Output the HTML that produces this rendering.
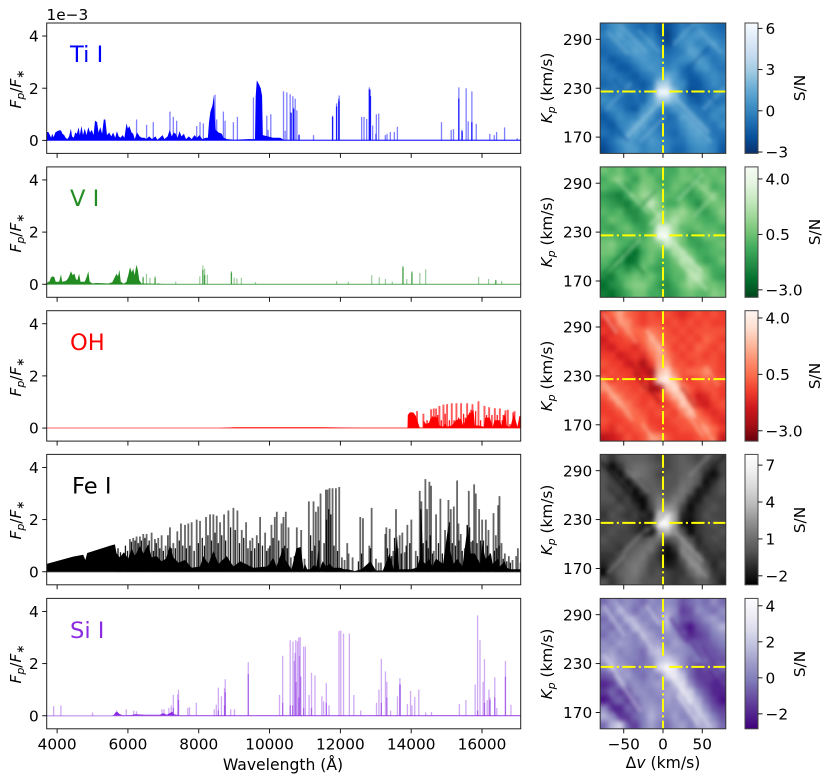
<!DOCTYPE html>
<html lang="en">
<head>
<meta charset="utf-8">
<title>Emission spectra and S/N maps</title>
<style>
html,body{margin:0;padding:0;background:#fff;}
svg{display:block;}
text{font-family:"DejaVu Sans","Liberation Sans",sans-serif;font-size:15.3px;fill:#000;}
.title{font-size:22.6px;}
.sub{font-size:11px;font-style:italic;}
.it{font-style:italic;}
.xl{font-size:15.6px;}
</style>
</head>
<body>
<svg id="chart" xmlns="http://www.w3.org/2000/svg" width="831" height="783" viewBox="0 0 831 783">
  <defs>
    <filter id="heat-blur" filterUnits="userSpaceOnUse" x="560" y="0" width="210" height="783" color-interpolation-filters="sRGB">
      <feGaussianBlur stdDeviation="2.6"/>
    </filter>
    <filter id="streak-blur" filterUnits="userSpaceOnUse" x="560" y="0" width="210" height="783" color-interpolation-filters="sRGB">
      <feGaussianBlur stdDeviation="1.7"/>
    </filter>
  </defs>
  <rect x="0" y="0" width="831" height="783" fill="#fff"/>
  <g id="layer"></g>

  <text x="46.5" y="20">1e−3</text>

  <text class="title" x="70" y="62" style="fill:#0000ff">Ti I</text>
  <text class="title" x="70" y="206" style="fill:#228b22">V I</text>
  <text class="title" x="70" y="350" style="fill:#ff0000">OH</text>
  <text class="title" x="72" y="493.5" style="fill:#000">Fe I</text>
  <text class="title" x="70" y="638" style="fill:#8a2be2">Si I</text>

  <text transform="translate(21,89) rotate(-90)" text-anchor="middle"><tspan class="it">F</tspan><tspan class="sub" dy="3">p</tspan><tspan dy="-3">/</tspan><tspan class="it">F</tspan><tspan class="sub" dy="3">∗</tspan></text>
  <text transform="translate(21,233) rotate(-90)" text-anchor="middle"><tspan class="it">F</tspan><tspan class="sub" dy="3">p</tspan><tspan dy="-3">/</tspan><tspan class="it">F</tspan><tspan class="sub" dy="3">∗</tspan></text>
  <text transform="translate(21,377) rotate(-90)" text-anchor="middle"><tspan class="it">F</tspan><tspan class="sub" dy="3">p</tspan><tspan dy="-3">/</tspan><tspan class="it">F</tspan><tspan class="sub" dy="3">∗</tspan></text>
  <text transform="translate(21,520) rotate(-90)" text-anchor="middle"><tspan class="it">F</tspan><tspan class="sub" dy="3">p</tspan><tspan dy="-3">/</tspan><tspan class="it">F</tspan><tspan class="sub" dy="3">∗</tspan></text>
  <text transform="translate(21,664) rotate(-90)" text-anchor="middle"><tspan class="it">F</tspan><tspan class="sub" dy="3">p</tspan><tspan dy="-3">/</tspan><tspan class="it">F</tspan><tspan class="sub" dy="3">∗</tspan></text>

  <text transform="translate(552,88) rotate(-90)" text-anchor="middle"><tspan class="it">K</tspan><tspan class="sub" dy="3">p</tspan><tspan dy="-3"> (km/s)</tspan></text>
  <text transform="translate(552,232) rotate(-90)" text-anchor="middle"><tspan class="it">K</tspan><tspan class="sub" dy="3">p</tspan><tspan dy="-3"> (km/s)</tspan></text>
  <text transform="translate(552,376) rotate(-90)" text-anchor="middle"><tspan class="it">K</tspan><tspan class="sub" dy="3">p</tspan><tspan dy="-3"> (km/s)</tspan></text>
  <text transform="translate(552,520) rotate(-90)" text-anchor="middle"><tspan class="it">K</tspan><tspan class="sub" dy="3">p</tspan><tspan dy="-3"> (km/s)</tspan></text>
  <text transform="translate(552,664) rotate(-90)" text-anchor="middle"><tspan class="it">K</tspan><tspan class="sub" dy="3">p</tspan><tspan dy="-3"> (km/s)</tspan></text>

  <text transform="translate(805,88) rotate(-90)" text-anchor="middle">S/N</text>
  <text transform="translate(820,232) rotate(-90)" text-anchor="middle">S/N</text>
  <text transform="translate(820,376) rotate(-90)" text-anchor="middle">S/N</text>
  <text transform="translate(805,520) rotate(-90)" text-anchor="middle">S/N</text>
  <text transform="translate(805,664) rotate(-90)" text-anchor="middle">S/N</text>

  <text class="xl" x="283" y="770" text-anchor="middle">Wavelength (Å)</text>
  <text class="xl" x="663" y="768" text-anchor="middle">Δ<tspan class="it">v</tspan> (km/s)</text>
</svg>
<script>
// ---------- spectrum tick data ----------
const waveTicks = [4000, 6000, 8000, 10000, 12000, 14000, 16000];
const fluxTicks = [0, 2, 4];

// ---------- Ti I ----------
const tiEnvWave = [3706,3750,3790,3830,3860,3900,3950,4000,4060,4110,4150,4200,4240,4290,4340,4390,4420,4470,4510,4560,4610,4640,4690,4730,4780,4830,4880,4930,4980,5030,5070,5130,5170,5220,5270,5320,5360,5410,5470,5530,5580,5640,5690,5740,5790,5850,5900,5960,6000,6040,6100,6150,6190,6260,6330,6390,6470,6520,6600,6680,6780,6830,6900,6980,7030,7120,7180,7240,7290,7350,7400,7460,7510,7580,7640,7720,7800,7880,7950,8020,8100,8200,8260,8290,8330,8390,8430,8450,8480,8560,8650,8700,8800,9000,9400,9590,9610,9640,9700,9750,9790,9810,10100,10300,10400,17093];
const tiEnvFlux = [0.32,0.32,0.22,0.1,0.25,0.12,0.3,0.35,0.38,0.38,0.25,0.2,0.1,0.05,0.15,0.45,0.15,0.1,0.3,0.25,0.5,0.2,0.55,0.2,0.45,0.2,0.5,0.3,0.4,0.2,0.75,0.7,0.3,0.5,0.25,0.8,0.8,0.2,0.3,0.15,0.3,0.1,0.35,0.15,0.1,0.2,0.1,0.65,0.45,0.55,0.3,0.25,0.05,0.3,0.15,0.1,0.1,0.05,0.15,0.05,0.15,0.02,0.1,0.2,0.05,0.15,0.4,0.15,0.3,0.25,0.1,0.35,0.15,0.25,0.05,0.15,0.05,0.2,0.1,0.2,0.05,0.1,0.1,0.7,1.1,1.35,1.75,0.9,0.4,0.3,0.25,0.1,0.05,0.02,0.05,0.05,1.7,2.3,2.15,2.0,1.7,0.2,0.1,0.1,0.02,0.02];
const tiLineWave = [6244,6527,6716,7187,7282,7376,7942,8036,8130,8460,8507,8696,8743,8979,9092,9545,9922,9960,10035,10394,10488,10582,10658,10724,10771,10601,10677,10440,10836,11242,11780,11893,11950,11969,12818,12847,12601,12668,12743,12911,13017,13083,13000,13269,13317,13411,13524,13611,14856,15130,15195,15346,15431,15553,15610,15714,15837,16221,16346,16412,16638,16994];
const tiLineFlux = [0.8,0.6,0.7,1.1,0.9,0.75,0.55,0.7,0.65,1.75,0.8,1.1,0.75,0.7,0.9,1.65,0.95,0.4,1.0,1.88,1.84,1.77,1.69,1.6,1.15,1.08,1.25,0.37,0.23,0.2,0.95,1.42,1.6,1.72,2.03,1.95,0.9,0.9,0.82,0.57,1.0,1.03,0.25,0.2,0.25,0.32,0.32,0.52,0.7,0.4,0.43,2.03,0.4,2.0,0.73,1.88,0.63,0.25,0.2,0.32,0.5,0.08];
const tiInnerWave = [10610,10680,10830,11780,11893,11960,12818,12850,15346,15440,15714];
const tiInnerFlux = [1.05,1.2,0.2,0.9,1.3,1.5,1.95,1.7,1.6,0.35,0.7];

// ---------- V I ----------
const vEnvWave = [3706,3790,3820,3870,3920,3960,4060,4110,4140,4240,4300,4340,4390,4440,4490,4530,4570,4620,4660,4780,4840,4880,4920,5000,5100,5300,5450,5560,5620,5680,5720,5760,5800,5880,5960,6020,6060,6110,6150,6190,6240,6280,6320,6380,7093,17093];
const vEnvFlux = [0.05,0.12,0.25,0.3,0.28,0.1,0.1,0.38,0.1,0.12,0.2,0.3,0.5,0.35,0.4,0.2,0.15,0.4,0.1,0.1,0.3,0.5,0.1,0.03,0.05,0.04,0.03,0.08,0.25,0.4,0.3,0.55,0.1,0.02,0.1,0.4,0.65,0.45,0.6,0.35,0.75,0.55,0.15,0.03,0.01,0.01];
const vLineWave = [6428,6525,6622,6767,6864,7350,8030,8117,8166,8243,8923,9001,9078,9204,9603,11894,12224,12885,13098,13273,13467,13768,13875,14021,14244,14409,15904,16186,16390,16555];
const vLineFlux = [0.3,0.4,0.25,0.3,0.05,0.1,0.3,0.72,0.6,0.37,0.5,0.25,0.22,0.25,0.08,0.12,0.1,0.35,0.27,0.2,0.1,0.7,0.2,0.5,0.43,0.57,0.28,0.2,0.17,0.12];
const vInnerWave = [6428,6767,8117,8166,8923,13768,14021,16390];
const vInnerFlux = [0.25,0.25,0.55,0.35,0.45,0.65,0.45,0.15];

// ---------- OH ----------
const ohEnvWave = [8500,9000,11500,12500,13895,13905,13960,14060,14140,14180,14240,14340,14345,14420,14500,14560,14680,14750,14790,14900,14960,15010,15150,15260,15400,15470,15600,15700,15760,15800,15900,16050,16090,16220,16300,16360,16500,16550,16650,16700,16800,16900,17000,17060,17093];
const ohEnvFlux = [0,0.03,0.03,0.01,0.01,0.5,0.6,0.6,0.45,0.25,0.02,0.02,0.3,0.15,0.2,0.4,0.42,0.4,0.1,0.05,0.2,0.05,0.1,0.3,0.35,0.1,0.5,0.6,0.7,0.1,0.1,0.05,0.4,0.4,0.05,0.3,0.3,0.1,0.6,0.1,0.03,0.55,0.05,0.45,0.45];
const ohLineWave = [14166,14345,14449,14562,14637,14703,14797,14911,15014,15146,15278,15410,15580,15731,15900,16070,16202,16362,16504,16664,16730,16881,16919,17070];
const ohLineFlux = [0.65,0.55,0.3,0.72,0.75,0.75,0.85,0.9,0.92,0.95,0.95,0.95,0.95,0.92,1.03,0.85,0.8,0.76,0.75,0.68,0.7,0.6,0.65,0.45];
const ohInnerWave = [14600,14670,14750,14850,14960,15080,15210,15340,15480,15530,15650,15690,15820,15960,16130,16280,16430,16570,16600,16790,16960];
const ohInnerFlux = [0.45,0.45,0.5,0.3,0.55,0.3,0.3,0.4,0.55,0.4,0.6,0.7,0.65,0.3,0.5,0.5,0.5,0.3,0.5,0.15,0.1];

// ---------- Fe I ----------
const feEnvWave = [3706,4453,4736,4800,4849,5490,5631,5679,5773,5886,6009,6103,6197,6339,6433,6574,6669,6810,6952,7074,7187,7282,7423,7612,7800,8036,8130,8272,8413,8555,8791,8979,9168,9545,9921,10000,10100,10200,10390,10450,10520,10620,10760,10880,10960,11000,11060,11150,11250,11330,11370,11420,11500,11600,11700,11800,12000,12100,12200,12400,12600,12850,13000,13200,13390,13500,13600,13660,13800,14000,14150,14250,14290,14330,14400,14500,14600,14700,14900,15050,15100,15200,15300,15450,15600,15680,15800,15950,16000,16100,16250,16300,16450,16500,16640,16700,16800,17093];
const feEnvFlux = [0.3,0.58,0.65,0.45,0.72,1.0,1.05,0.7,0.55,0.75,0.5,0.9,0.6,1.0,0.7,1.05,0.55,0.6,0.4,0.5,1.0,0.55,0.35,0.45,0.15,0.2,0.6,0.3,0.8,0.3,0.6,0.2,0.4,0.15,0.2,0.3,0.55,0.2,0.95,0.45,0.3,0.1,0.9,0.95,0.1,0.3,0.1,0.1,0.25,0.2,0.8,0.1,0.4,0.2,0.3,0.15,0.15,0.1,0.1,0.03,0.1,0.4,0.05,0.05,0.7,0.1,1.4,0.1,0.1,0.1,0.15,0.5,2.4,0.4,0.3,0.5,0.2,0.5,0.3,1.8,0.8,0.3,0.5,0.2,1.8,0.7,0.7,0.3,1.1,0.5,0.7,0.3,0.5,0.2,0.4,0.15,0.1,0.1];
const feLineWave = [6056,6150,6244,6339,6433,6527,6669,6763,6857,6952,7065,7187,7282,7395,7498,7612,7706,7800,7942,8036,8206,8319,8413,8508,8602,8715,8838,8979,9092,9215,9337,9450,9517,9639,9733,9875,9969,10054,10148,10205,10337,10393,10459,10535,10601,10770,10893,10987,11110,11242,11308,11374,11440,11591,11638,11695,11779,11874,11968,12043,12119,12194,12232,12345,12562,12638,12817,12883,13005,13081,13147,13269,13298,13392,13496,13571,13675,13750,13816,13892,14005,14128,14241,14288,14401,14448,14514,14561,14637,14703,14825,14957,15052,15118,15203,15297,15335,15400,15514,15627,15693,15778,15825,15919,16004,16108,16183,16325,16391,16457,16494,16551,16645,16758,16862,16966,17013,17089];
const feLineFlux = [1.25,1.3,1.35,1.35,1.45,1.45,1.5,1.25,1.3,1.4,1.0,1.7,1.1,1.55,1.85,1.8,1.85,1.9,2.0,1.95,2.1,2.2,2.2,2.15,1.9,2.2,2.35,2.45,2.35,1.6,1.9,1.2,1.3,1.4,2.1,1.5,0.9,1.8,2.1,2.3,1.85,2.1,2.3,1.7,0.55,1.7,1.6,0.5,2.7,2.7,2.3,2.5,3.0,3.15,3.15,3.2,3.2,3.2,3.25,0.55,0.45,1.1,0.7,0.55,2.1,2.05,1.0,2.45,0.5,0.35,0.35,1.45,1.7,1.65,0.8,2.4,1.4,1.5,0.75,1.8,2.0,0.8,3.1,2.7,3.55,2.4,3.45,3.3,0.8,2.2,2.8,1.6,2.75,2.4,2.5,3.5,1.85,1.45,0.9,3.1,1.15,3.35,3.0,2.4,2.0,2.0,1.6,2.25,1.4,2.55,2.9,1.1,0.7,0.6,0.45,0.6,0.9,0.35];
const feInnerWave = [5720,5790,5850,5930,5990,6100,6200,6290,6380,6480,6600,6720,6800,6900,7000,7130,7230,7340,7450,7550,7650,7750,7870,7990,8100,8160,8260,8360,8460,8550,8650,8760,8900,9030,9150,9270,9390,9480,9580,9690,9800,9920,10010,10100,10260,10360,10430,10500,10700,10830,11160,11200,11280,11400,11540,11610,11670,11730,11820,11920,12510,12600,12850,13330,13450,13530,13620,13720,13860,13960,14180,14270,14340,14430,14480,14540,14600,14770,14880,15000,15080,15160,15250,15350,15440,15580,15650,15740,15860,15960,16040,16150,16230,16350,16420,16480,16600,16700,16800];
const feInnerFlux = [0.9,0.75,0.6,1.0,0.8,1.15,1.2,1.1,1.2,1.3,1.2,0.8,1.1,0.9,0.8,1.4,0.9,0.9,1.2,1.0,0.9,1.0,0.8,1.1,1.3,1.0,1.4,1.2,1.5,1.1,1.4,1.2,1.7,1.6,1.1,1.3,0.9,0.8,0.9,1.1,1.0,0.8,1.0,1.3,1.2,0.9,1.0,0.9,0.6,0.9,1.4,0.8,1.0,1.2,1.1,2.0,2.4,2.2,1.0,0.8,0.4,0.7,0.9,0.9,0.6,1.3,0.9,0.7,1.0,1.1,0.6,2.4,1.1,1.2,0.9,1.4,0.7,1.1,0.7,1.1,1.9,1.1,1.0,1.2,0.8,1.8,1.7,1.2,1.1,1.2,1.2,1.0,0.7,0.8,0.9,1.0,0.5,0.4,0.35];

// ---------- Si I ----------
const siEnvWave = [5550,5600,5650,5700,5750,5850,6100,6200,6500,6900,7000,7100,7250,7300,7450,8400,17093];
const siEnvFlux = [0,0.03,0.13,0.15,0.08,0.02,0.03,0.06,0.04,0.04,0.1,0.04,0.15,0.06,0.02,0.02,0.02];
const siLineWave = [3903,4107,5000,5680,5952,6165,6243,6962,7020,7156,7224,7282,7408,7428,7690,7739,7933,8438,8496,8554,8641,8729,8748,8903,9010,9399,10282,10370,10583,10661,10739,10787,10826,10865,10700,10720,10845,10962,11011,11117,11185,11283,11477,11526,11603,11680,11962,12011,12089,12254,12380,12574,13021,13089,13157,13273,13312,13419,13613,13681,13690,13894,13982,14021,14100,14215,14409,14574,15361,15545,15807,15875,15943,16031,16070,16147,16196,16225,16361,16419,16662,16817];
const siLineFlux = [0.37,0.4,0.13,0.2,0.25,0.2,0.17,0.25,0.25,0.3,0.4,0.8,0.82,1.0,0.3,0.33,0.5,0.25,0.42,1.08,0.75,1.05,1.4,0.25,0.25,2.05,0.8,2.3,2.9,2.85,2.9,2.85,3.0,3.02,2.1,2.4,2.3,2.65,2.65,0.8,1.65,1.55,0.75,0.55,1.25,0.4,3.25,3.27,3.15,3.15,0.8,0.2,0.5,1.0,2.18,1.7,1.3,0.2,0.75,1.45,1.2,0.45,0.95,0.4,0.72,1.0,0.13,0.15,0.45,0.6,1.2,3.85,2.9,1.3,2.17,0.6,1.0,0.7,1.47,0.3,2.1,0.42];
const siInnerWave = [7282,7428,8554,8729,8748,9399,10370,10583,10650,10750,10826,10880,10962,11185,11603,13157,13312,13681,15875,16070,16225,16361,16662];
const siInnerFlux = [0.3,0.6,0.2,0.4,0.9,1.6,0.5,0.4,0.4,1.3,0.7,1.5,0.3,0.3,0.5,0.5,0.7,1.2,0.2,0.5,0.6,0.7,1.5];

// ---------- heatmap axes ----------
const velocityTicks = [-50, 0, 50];
const kpTicks = [170, 230, 290];
const kpPlanet = 226;

// ---------- colormaps, dark to light ----------
const blues = ["#08306b","#08519c","#2171b5","#4292c6","#6baed6","#9ecae1","#c6dbef","#deebf7","#f7fbff"];
const greens = ["#00441b","#006d2c","#238b45","#41ab5d","#74c476","#a1d99b","#c7e9c0","#e5f5e0","#f7fcf5"];
const reds = ["#67000d","#a50f15","#cb181d","#ef3b2c","#fb6a4a","#fc9272","#fcbba1","#fee0d2","#fff5f0"];
const greys = ["#000000","#252525","#525252","#737373","#969696","#bdbdbd","#d9d9d9","#f0f0f0","#ffffff"];
const purples = ["#3f007d","#54278f","#6a51a3","#807dba","#9e9ac8","#bcbddc","#dadaeb","#efedf5","#fcfbfd"];

// ---------- colorbar ticks ----------
const tiBarTicks = [-3, 0, 3, 6];
const tiBarLabels = ["−3","0","3","6"];
const vBarTicks = [-3, 0.5, 4];
const vBarLabels = ["−3.0","0.5","4.0"];
const ohBarTicks = [-3, 0.5, 4];
const ohBarLabels = ["−3.0","0.5","4.0"];
const feBarTicks = [-2, 1, 4, 7];
const feBarLabels = ["−2","1","4","7"];
const siBarTicks = [-2, 0, 2, 4];
const siBarLabels = ["−2","0","2","4"];

// ---------- S/N grids (rows: Kp 310 to 150, columns: dv -80 to 80) ----------
const tiMap = [
[-0.7,0.3,0.8,-0.2,-0.7,-1.2,-0.7,-1.7,-2.2,-1.2,-0.2,-0.7,0.3,-0.2,-0.7,-1.2],
[-0.2,0.3,1.3,0.3,-0.2,-0.7,-0.2,-1.2,-2.7,-1.2,0.3,0.3,0.8,0.3,-0.2,-0.7],
[-0.7,-0.2,0.3,0.8,0.8,0.3,0.3,-0.7,-2.2,-0.7,0.3,0.8,-0.2,0.3,0.8,-0.2],
[-1.2,-0.7,-0.2,0.3,1.3,0.8,0.3,-0.2,-1.2,-0.7,-0.2,1.3,0.8,-0.7,-0.2,0.3],
[-0.7,-1.7,-1.2,-0.7,0.3,0.8,0.3,0.3,-0.7,-0.2,0.3,0.3,1.3,0.3,-0.7,-0.2],
[-0.2,-0.7,-1.7,-1.7,-0.7,0.3,0.8,0.3,-0.2,0.3,-0.7,-1.2,0.3,0.8,-0.2,-0.7],
[-0.7,-0.2,-0.7,-1.2,-1.7,-0.7,-0.2,0.8,1.8,0.8,-0.7,-1.7,-1.2,-0.2,0.3,-0.2],
[-1.2,-0.7,-0.2,-0.7,-1.2,-1.7,-0.7,3,3.5,0.8,0.3,-1.7,-1.7,-0.7,0.3,-0.2],
[-0.2,-0.7,-0.7,-0.7,-0.7,-1.2,0,6.2,6.4,2.5,-0.2,-2.2,-1.7,-0.7,-0.7,-0.2],
[0.3,-0.2,-0.7,-1.2,-0.7,-1.2,0.8,3,3,1.8,0.3,-1.2,-1.7,-0.7,-0.2,-0.7],
[-0.7,0.3,-0.2,-1.2,-1.7,0.3,1.3,0.3,-0.2,0.8,0.8,-0.2,-0.7,-0.7,-0.2,0.3],
[-1.7,-0.7,0.3,-0.2,-0.2,1.3,0.8,-0.7,-1.2,-0.7,1.3,0.8,-0.2,-0.7,0.3,-0.2],
[-1.2,-1.7,-0.2,0.3,1.3,1.3,-0.2,-0.7,-0.7,-0.7,0.3,1.3,0.8,-0.2,-0.7,0.3],
[-0.7,-1.2,-0.7,0.8,1.3,0.3,0.3,-0.2,-0.7,-1.2,-0.2,0.8,1.3,0.3,-0.7,-0.7],
[-1.7,-0.7,0.3,1.3,0.3,-0.2,0.8,0.3,-0.2,-0.7,-0.7,0.3,0.8,0.8,-0.2,-1.2],
[-2.2,-1.2,-0.2,0.8,0.8,-0.2,0.3,0.3,-0.2,-1.2,-1.2,-0.2,0.3,0.3,-0.2,-1.7]
];
const vMap = [
[0.6,0.1,0.6,-0.4,0.1,0.6,-0.4,0.1,-0.4,-0.4,0.6,0.1,0.6,0.1,0.6,0.1],
[-0.4,0.6,1.1,0.1,-0.9,0.6,0.6,-0.4,-0.4,0.1,0.6,0.6,-0.4,0.6,0.1,0.6],
[0.1,-0.4,-0.4,-0.9,0.1,1.1,0.6,0.1,-0.4,0.6,0.1,-0.9,0.6,1.1,-0.4,0.1],
[-0.9,-1.4,-1.9,-0.4,0.6,1.6,1.6,0.6,0.1,0.1,-0.4,-0.9,-0.4,0.6,1.1,0.1],
[-0.4,-0.9,-1.4,-1.9,-0.4,0.6,2.8,1.1,-0.4,-0.4,0.6,-0.4,-1.4,0.1,0.6,0.6],
[0.1,-0.4,0.1,-1.4,-1.4,-0.4,0.6,1.1,0.6,1.1,1.6,0.6,-0.4,-0.9,0.1,1.1],
[-0.4,0.6,0.1,-0.4,-1.4,-0.9,0.1,1.6,1.1,2.1,1.1,0.6,0.1,-0.4,-0.4,0.6],
[-0.4,-0.9,0.1,0.6,-0.4,-0.9,0.1,3.6,3.6,1.6,0.1,0.1,0.6,0.1,0.1,-0.4],
[0.1,0.1,-0.4,0.1,0.1,-0.4,0.6,4.7,4.7,1.6,0.6,-0.9,-0.4,0.6,0.6,0.1],
[0.6,1.1,0.1,-0.4,-1.4,0.1,0.6,1.1,3.1,2.1,0.6,-0.4,-0.9,-0.4,0.1,0.6],
[0.6,0.6,-0.4,-1.9,-2.4,-0.4,0.6,0.1,0.1,2.1,2.1,0.6,-0.4,-0.4,0.1,0.1],
[0.1,-0.4,-0.9,-2.4,-1.9,0.1,0.6,-0.4,-0.4,0.6,2.6,2.1,0.1,-0.9,-0.4,0.6],
[-0.4,0.1,-0.4,-1.4,-0.4,0.6,-0.4,-0.9,-0.4,0.1,0.6,2.1,1.6,0.6,-0.4,-0.4],
[-1.4,-1.9,-0.4,0.1,0.6,0.1,0.6,-0.4,-0.9,0.1,0.1,2.1,2.6,1.1,-0.4,-0.9],
[-2.4,-1.4,-0.9,0.6,1.1,1.1,0.1,-0.9,-1.4,-0.4,0.6,1.6,1.1,0.6,0.6,0.1],
[-1.9,-2.4,-1.4,-0.4,0.6,0.6,-0.4,-0.4,-1.4,-0.9,0.1,0.6,0.1,0.1,1.1,0.6]
];
const ohMap = [
[-0.6,0.4,1.9,0.4,-0.1,-0.6,-0.1,-0.6,-0.1,-0.6,-1.1,-0.6,-0.1,-0.6,-0.1,-0.6],
[-1.1,-0.6,1.4,1.4,-0.1,-0.6,-0.1,-0.1,-0.6,-0.1,-0.6,-0.1,-0.6,-0.1,-0.6,-0.6],
[-0.6,-1.1,-0.1,0.9,0.4,0.4,0.9,0.4,-0.1,-0.6,-0.1,-0.6,-0.1,-0.1,-0.1,-0.1],
[-1.6,-0.6,-0.6,-0.1,-0.1,0.4,1.9,0.9,-0.1,-0.1,-0.6,-0.1,-0.6,0.4,-0.1,-0.6],
[-1.1,-1.6,-0.6,-0.6,-1.1,-0.1,1.4,1.9,0.4,-0.6,-0.1,-0.6,0.4,-0.1,-0.6,-0.1],
[-0.6,-0.6,-1.6,-1.1,-0.6,-1.1,0.4,1.9,0.9,-0.1,-0.6,-0.1,-0.1,-0.6,-0.1,-0.6],
[-0.1,-0.6,-0.6,-1.6,-1.1,-2.6,-0.6,1.9,1.9,-0.1,-0.1,-0.6,-0.1,-0.1,-0.1,-0.6],
[-0.6,-0.1,-0.6,-0.6,-1.1,-1.6,-2.6,2.4,3.4,0.9,-0.1,0.4,0.4,1.4,-0.1,-0.6],
[0.4,-0.6,-0.1,-0.6,-0.6,-0.6,-1.6,3.5,4.4,2.5,-0.1,-0.6,-0.1,0.4,-0.1,-0.1],
[1.4,0.9,-0.1,-0.1,-0.6,-0.1,-2.6,-2.6,2.4,3.6,1.4,-0.1,-0.6,-0.1,-0.1,-0.6],
[-0.1,1.4,0.9,-0.1,-0.1,-0.6,-0.6,-0.6,0.4,2.4,2.6,-0.1,-1.6,-1.1,-0.1,-0.6],
[-0.6,-0.1,1.4,0.9,-0.1,-0.6,-0.1,-0.6,-0.6,0.4,2.9,1.4,-1.1,-1.6,-0.6,-0.1],
[-0.6,-0.6,-0.1,0.9,0.4,-0.1,-0.6,-0.1,-0.1,-0.6,0.9,2.4,0.4,-0.6,-1.1,-0.6],
[-0.1,-0.6,-0.6,-0.1,0.4,0.4,-0.6,-0.6,-0.6,-0.1,-0.1,0.4,0.9,0.4,-0.6,-1.1],
[-0.6,-1.1,-0.1,-0.6,-0.1,0.4,-0.1,-0.6,-0.6,-0.6,-0.1,-0.1,0.4,1.4,0.4,-0.6],
[-2.1,-1.6,-1.1,-0.1,-0.6,-0.1,1.4,1.4,-0.1,-0.6,-0.6,-0.6,-0.1,0.4,0.4,-1.6]
];
const feMap = [
[0,-1,0,0.5,0.5,0.5,0,-0.5,-0.5,0,0.5,0,-0.5,0,-0.5,-0.5],
[-0.5,-2.5,-1,0.5,1,1,0.5,0,-0.5,0,0.5,0.5,0,-0.5,-1.5,-0.5],
[0,-1,-2.5,0,1.5,1,0.5,-0.5,0,0,0.5,1,0.5,-1.5,-2.5,-0.5],
[0,-0.5,-1,-2.5,-0.5,0.5,0.5,0,0,0,1,1,0,-2.5,-1,0],
[0,-0.5,-0.5,-1.5,-2.5,-0.5,0.5,0.5,0,0.5,1.5,0.5,-2,-1.5,-0.5,0],
[0,0,-1,-0.5,-2,-2.5,0,1.5,0.5,1.5,1,-1.5,-2,-0.5,-0.5,-0.5],
[-0.5,-0.5,0,-0.5,-1,-2.5,-0.5,2,2.5,2,-0.5,-2.5,-1,-0.5,0,-0.5],
[-1,0,-0.5,-1,-0.5,-1,-2,4.5,6,3,-1.5,-2,-1,0,-0.5,-0.5],
[-0.5,-0.5,0,-0.5,-1,-1.5,-1,7.8,7.8,3,-2,-2.5,-1,-0.5,0,-0.5],
[-0.5,0,-0.5,-0.5,-1,-2,-2.5,3,4,2,0,-2.5,-1,-0.5,-0.5,0],
[0,-0.5,-0.5,-0.5,0,0,1,1,-0.5,0.5,1.5,0,-1.5,-0.5,0,-0.5],
[-0.5,-0.5,-1,0,0.5,1,1.5,-0.5,-2.5,-1,2,1.5,-1,-1,-0.5,-0.5],
[-1,-1,0,0.5,1,1.5,0,-1,-2.5,-2,1,2,1,-1,-1,-1],
[-1.5,-0.5,0,1,1.5,1,-0.5,-0.5,-2,-1.5,-0.5,2,2,0,-1.5,-0.5],
[-2.5,-0.5,0.5,1,1.5,0.5,-0.5,0,-0.5,-1,-1,0.5,2,1,-1,-1],
[0,-1,0,1,1,0,0,0,-0.5,-1,-0.5,-0.5,0.5,0.5,-0.5,-1.5]
];
const siMap = [
[-0.5,0.5,0,0.5,0,-0.5,0.5,0,0.5,0,-1,-0.5,0,-0.5,0.5,-0.5],
[0.5,0,1.5,0.5,-0.5,0.5,0,0.5,1,0.5,-1.5,-1,0.5,0,-0.5,0.5],
[-0.5,0.5,0,1.5,1,0,0.5,0.5,2,0,-1,-1,-0.5,0.5,1,0],
[0,-0.5,0.5,0,1.5,1,0,0,1.5,0,-1.5,-2.5,-1,-0.5,0.5,1.5],
[-0.5,0.5,0,0.5,0,1.5,1,0,0.5,0.5,-0.5,-2,-1.5,-1,0,0.5],
[0.5,0,1,0.5,0,0.5,1,1,0,1,0.5,-0.5,-1,-1,-0.5,0],
[0.5,1,0,0.5,0,-0.5,1.5,2,1,0.5,0.5,0,-0.5,-1,-1,-0.5],
[1,1.5,0.5,0,0,-0.5,0.5,1.8,2.3,1.5,0.5,-0.5,0,-0.5,-1,-1],
[0,1.5,1,0.5,-0.5,0,0,2.8,4.3,3.2,0.5,-0.5,-1.5,-1,-1,-0.5],
[-1,-0.5,0.5,1,0,-0.5,0.5,0,2.5,3.3,2,-0.5,-1.5,-1.5,-1,-1.5],
[-2,-1.5,0,0,0.5,0,0.5,1,0.5,2,3,0.5,-1,-1.5,-2,-1.5],
[-1.5,-0.5,-1.5,-1,0.5,0.5,0,0.5,1,1,2.5,2.5,0,-1,-2,-2],
[-2.5,-1,-0.5,-1.5,-0.5,0.5,0.5,0,1,0.5,1.5,2.5,1.5,-0.5,-1.5,-2.5],
[0.5,-1.5,-2,-0.5,-1,0.5,1,0.5,0.5,0.5,0.5,1.5,2,0.5,-1,-1.5],
[1.5,0.5,-1,-1.5,-0.5,0,1.5,0.5,0,1,0,0.5,2,1.5,0,-1],
[-0.5,1.5,2.5,-0.5,-1.5,0,1,0,-0.5,0.5,1,0,1,1.5,1,-0.5]
];

// ---------- diagonal S/N streaks: start dv, start Kp, length in km/s, direction, S/N ----------
const tiStreakV = [-70,-52,-30,-72,-45,-28,-62,12,30,48,15,28,52,-5,-70,40];
const tiStreakKp = [298,305,300,205,172,165,240,222,195,300,285,250,205,300,190,240];
const tiStreakLen = [25,30,25,30,40,30,25,45,30,25,40,30,25,15,25,30];
const tiStreakDir = [1,1,1,-1,-1,-1,1,1,1,1,-1,-1,-1,1,1,1];
const tiStreakSN = [2,2,1.8,1.8,3,2.2,-1.8,3,2,2,2,-1.8,2,-2.5,-1.8,-1.8];

const vStreakV = [-60,-40,-20,-50,-75,-60,-35,8,25,45,-75,-15,20,40];
const vStreakKp = [295,275,265,205,180,190,255,222,190,290,170,240,270,250];
const vStreakLen = [20,20,20,25,20,30,25,40,30,20,20,15,30,25];
const vStreakDir = [1,1,1,1,-1,-1,-1,1,1,1,-1,-1,-1,-1];
const vStreakSN = [2,2.5,3,-2.5,-2.5,2,-1.5,3.5,3,2,-2.5,3,2.5,2];

const ohStreakV = [-75,-55,-20,-40,-78,-60,10,30,50,-35,-15,25,55,-25];
const ohStreakKp = [305,300,285,245,225,205,222,185,170,232,212,215,240,170];
const ohStreakLen = [15,20,20,15,20,20,30,20,15,12,10,15,15,15];
const ohStreakDir = [1,1,1,1,1,1,1,1,1,1,1,1,1,1];
const ohStreakSN = [3,2,3,-2.5,3,2.5,3.5,2.5,2.5,-2.8,-2.8,-2.3,1.8,2.5];

const feStreakV = [-78,-70,-45,35,70,15,25,-20,-50,-70,45,60,-30,-60];
const feStreakKp = [300,270,290,285,300,215,190,215,190,165,260,205,235,285];
const feStreakLen = [30,30,25,30,40,35,30,30,30,20,25,20,20,20];
const feStreakDir = [1,1,1,-1,-1,1,1,-1,-1,-1,-1,1,1,1];
const feStreakSN = [-2.2,-1,2.2,2.5,-2.2,3.5,2.8,2.5,2.5,2.5,-1.5,-1,-2,-0.5];

const siStreakV = [-75,-60,-40,-20,-75,-60,5,20,40,-72,-55,10,30,50,60];
const siStreakKp = [300,305,285,300,240,215,225,190,180,190,175,285,265,250,220];
const siStreakLen = [25,25,25,15,25,30,30,25,20,20,15,20,20,20,15];
const siStreakDir = [1,1,1,1,1,1,1,1,1,1,1,1,1,1,1];
const siStreakSN = [2.5,2,2.8,3,3,2.5,4,3.5,2.5,-2.5,-2,-2.3,-2,-1.8,-2.5];

// ---------- layout ----------
const SVGNS = "http://www.w3.org/2000/svg";
const layer = document.getElementById("layer");
const defs = document.querySelector("defs");
const SPEC_L = 46.7, SPEC_R = 520.7, PANEL_H = 130.4;
const HEAT_L = 600.2, HEAT_R = 725.8;
const BAR_L = 745, BAR_R = 758;
const WAVE_MIN = 3706, WAVE_MAX = 17093;
const FLUX_MIN = -0.5, FLUX_MAX = 4.5;
const V_MIN = -80, V_MAX = 80, KP_MIN = 150, KP_MAX = 310;

const xWave = w => SPEC_L + (w - WAVE_MIN) / (WAVE_MAX - WAVE_MIN) * (SPEC_R - SPEC_L);
const yFlux = (top, f) => top + (FLUX_MAX - f) / (FLUX_MAX - FLUX_MIN) * PANEL_H;
const xVel = v => HEAT_L + (v - V_MIN) / (V_MAX - V_MIN) * (HEAT_R - HEAT_L);
const yKp = (top, k) => top + (KP_MAX - k) / (KP_MAX - KP_MIN) * PANEL_H;
const yBar = (top, lo, hi, v) => top + (hi - v) / (hi - lo) * PANEL_H;

function make(tag, attrs, parent) {
  const el = document.createElementNS(SVGNS, tag);
  for (const k in attrs) el.setAttribute(k, attrs[k]);
  parent.appendChild(el);
  return el;
}
function hexToRgb(h) {
  return [parseInt(h.slice(1, 3), 16), parseInt(h.slice(3, 5), 16), parseInt(h.slice(5, 7), 16)];
}
function cmap(stops, t) {
  const f = Math.max(0, Math.min(1, t)) * (stops.length - 1);
  const i = Math.min(stops.length - 2, Math.floor(f));
  const a = hexToRgb(stops[i]), b = hexToRgb(stops[i + 1]), u = f - i;
  return "rgb(" + a.map((c, n) => Math.round(c + (b[n] - c) * u)).join(",") + ")";
}

const rows = [
  {key:"ti", top:23,    color:"#0000ff", envWave:tiEnvWave, envFlux:tiEnvFlux, lineWave:tiLineWave, lineFlux:tiLineFlux, innerWave:tiInnerWave, innerFlux:tiInnerFlux, lw:1.3, la:0.5,  ia:0.8,  bw:1,   ba:0.7, map:tiMap, cm:blues,   lo:-3.1,  hi:6.39, bt:tiBarTicks, bl:tiBarLabels, sv:tiStreakV, sk:tiStreakKp, sl:tiStreakLen, sd:tiStreakDir, ss:tiStreakSN, slope:1.0},
  {key:"v",  top:166.9, color:"#228b22", envWave:vEnvWave,  envFlux:vEnvFlux,  lineWave:vLineWave,  lineFlux:vLineFlux,  innerWave:vInnerWave,  innerFlux:vInnerFlux,  lw:1.2, la:0.45, ia:0.7,  bw:1,   ba:0.7, map:vMap,  cm:greens,  lo:-3.47, hi:4.76, bt:vBarTicks,  bl:vBarLabels,  sv:vStreakV,  sk:vStreakKp,  sl:vStreakLen,  sd:vStreakDir,  ss:vStreakSN,  slope:1.0},
  {key:"oh", top:310.7, color:"#ff0000", envWave:ohEnvWave, envFlux:ohEnvFlux, lineWave:ohLineWave, lineFlux:ohLineFlux, innerWave:ohInnerWave, innerFlux:ohInnerFlux, lw:1.9, la:0.65, ia:0.9,  bw:1,   ba:0.6, map:ohMap, cm:reds,    lo:-3.64, hi:4.45, bt:ohBarTicks, bl:ohBarLabels, sv:ohStreakV, sk:ohStreakKp, sl:ohStreakLen, sd:ohStreakDir, ss:ohStreakSN, slope:1.4},
  {key:"fe", top:454.4, color:"#000000", envWave:feEnvWave, envFlux:feEnvFlux, lineWave:feLineWave, lineFlux:feLineFlux, innerWave:feInnerWave, innerFlux:feInnerFlux, lw:1.8, la:0.6,  ia:0.9,  bw:1.5, ba:0.5, map:feMap, cm:greys,   lo:-2.73, hi:7.87, bt:feBarTicks, bl:feBarLabels, sv:feStreakV, sk:feStreakKp, sl:feStreakLen, sd:feStreakDir, ss:feStreakSN, slope:1.0},
  {key:"si", top:598.4, color:"#8a2be2", envWave:siEnvWave, envFlux:siEnvFlux, lineWave:siLineWave, lineFlux:siLineFlux, innerWave:siInnerWave, innerFlux:siInnerFlux, lw:1.3, la:0.4,  ia:0.55, bw:1.6, ba:0.4, map:siMap, cm:purples, lo:-2.83, hi:4.41, bt:siBarTicks, bl:siBarLabels, sv:siStreakV, sk:siStreakKp, sl:siStreakLen, sd:siStreakDir, ss:siStreakSN, slope:1.4}
];

function tickLine(parent, x1, y1, x2, y2) {
  const t = make("line", {x1, y1, x2, y2, stroke:"#000", "stroke-width":0.9}, parent);
  
  
}
function tickText(parent, x, y, anchor, str) {
  const t = make("text", {x, y, "text-anchor":anchor}, parent);
  
  
  t.textContent = str;
}
function fmt(v) {
  return String(v).replace("-", "−");
}

rows.forEach((r, idx) => {
  const top = r.top, bottom = top + PANEL_H, last = idx === rows.length - 1;

  // ---------- spectrum panel ----------
  const spec = make("g", {}, layer);
  
  
  const clipId = "clip-spec-" + r.key;
  const cp = make("clipPath", {id:clipId}, defs);
  make("rect", {x:SPEC_L, y:top, width:SPEC_R - SPEC_L, height:PANEL_H}, cp);
  const plot = make("g", {"clip-path":"url(#" + clipId + ")"}, spec);
  
  

  let d = "M" + xWave(r.envWave[0]).toFixed(1) + " " + yFlux(top, 0).toFixed(1);
  r.envWave.forEach((w, i) => {
    d += "L" + xWave(w).toFixed(1) + " " + yFlux(top, r.envFlux[i]).toFixed(1);
  });
  d += "L" + xWave(r.envWave[r.envWave.length - 1]).toFixed(1) + " " + yFlux(top, 0).toFixed(1) + "Z";
  const env = make("path", {d:d, fill:r.color, stroke:"none"}, plot);
  
  

  r.lineWave.forEach((w, i) => {
    const ln = make("line", {x1:xWave(w), x2:xWave(w), y1:yFlux(top, 0), y2:yFlux(top, r.lineFlux[i]), stroke:r.color, "stroke-width":r.lw, "stroke-opacity":r.la}, plot);
    
    
  });

  r.innerWave.forEach((w, i) => {
    const iln = make("line", {x1:xWave(w), x2:xWave(w), y1:yFlux(top, 0), y2:yFlux(top, r.innerFlux[i]), stroke:r.color, "stroke-width":1.3, "stroke-opacity":r.ia}, plot);
    
    
  });

  const base = make("line", {x1:SPEC_L, x2:SPEC_R, y1:yFlux(top, 0), y2:yFlux(top, 0), stroke:r.color, "stroke-width":r.bw, "stroke-opacity":r.ba}, plot);
  
  

  const frame = make("rect", {x:SPEC_L, y:top, width:SPEC_R - SPEC_L, height:PANEL_H, fill:"none", stroke:"#222", "stroke-width":1}, spec);
  
  

  fluxTicks.forEach(f => {
    tickLine(spec, SPEC_L - 4.5, yFlux(top, f), SPEC_L, yFlux(top, f));
    tickText(spec, SPEC_L - 8, yFlux(top, f) + 5.6, "end", fmt(f));
  });
  waveTicks.forEach(w => {
    tickLine(spec, xWave(w), bottom, xWave(w), bottom + 4.5);
    if (last) tickText(spec, xWave(w), bottom + 20.5, "middle", String(w));
  });

  // ---------- S/N heatmap ----------
  const heat = make("g", {}, layer);
  
  
  const hClip = "clip-heat-" + r.key;
  const hc = make("clipPath", {id:hClip}, defs);
  make("rect", {x:HEAT_L, y:top, width:HEAT_R - HEAT_L, height:PANEL_H}, hc);
  const hOuter = make("g", {"clip-path":"url(#" + hClip + ")"}, heat);
  const cells = make("g", {filter:"url(#heat-blur)"}, hOuter);
  const nRows = r.map.length, nCols = r.map[0].length;
  const dv = (V_MAX - V_MIN) / nCols, dk = (KP_MAX - KP_MIN) / nRows;
  r.map.forEach((row, ri) => {
    row.forEach((val, ci) => {
      let x0 = xVel(V_MIN + ci * dv), x1 = xVel(V_MIN + (ci + 1) * dv);
      let y0 = yKp(top, KP_MAX - ri * dk), y1 = yKp(top, KP_MAX - (ri + 1) * dk);
      if (ci === 0) x0 -= 14;
      if (ci === nCols - 1) x1 += 14;
      if (ri === 0) y0 -= 14;
      if (ri === nRows - 1) y1 += 14;
      const c = make("rect", {x:x0, y:y0, width:x1 - x0 + 0.5, height:y1 - y0 + 0.5, fill:cmap(r.cm, (val - r.lo) / (r.hi - r.lo))}, cells);
      
      
    });
  });

  const streaks = make("g", {filter:"url(#streak-blur)"}, hOuter);
  r.sv.forEach((v, i) => {
    const s = make("line", {
      x1:xVel(v), y1:yKp(top, r.sk[i]),
      x2:xVel(v + r.sl[i]), y2:yKp(top, r.sk[i] - r.sd[i] * r.sl[i] * r.slope),
      stroke:cmap(r.cm, (r.ss[i] - r.lo) / (r.hi - r.lo)),
      "stroke-width":4, "stroke-opacity":0.38, "stroke-linecap":"round"
    }, streaks);
    
    
  });

  const yp = yKp(top, kpPlanet);
  [[V_MIN, -8], [8, V_MAX]].forEach(seg => {
    const h = make("line", {x1:xVel(seg[0]), x2:xVel(seg[1]), y1:yp, y2:yp, stroke:"#ffff00", "stroke-width":2, "stroke-dasharray":"13.3 3.3 2.1 3.3"}, hOuter);
    
    
  });
  [[KP_MAX, 236], [214, KP_MIN]].forEach(seg => {
    const v = make("line", {x1:xVel(0), x2:xVel(0), y1:yKp(top, seg[0]), y2:yKp(top, seg[1]), stroke:"#ffff00", "stroke-width":2, "stroke-dasharray":"13.3 3.3 2.1 3.3"}, hOuter);
    
    
  });

  const hFrame = make("rect", {x:HEAT_L, y:top, width:HEAT_R - HEAT_L, height:PANEL_H, fill:"none", stroke:"#333", "stroke-width":1}, heat);
  
  

  kpTicks.forEach(k => {
    tickLine(heat, HEAT_L - 4.5, yKp(top, k), HEAT_L, yKp(top, k));
    tickText(heat, HEAT_L - 8, yKp(top, k) + 5.6, "end", String(k));
  });
  velocityTicks.forEach(v => {
    tickLine(heat, xVel(v), bottom, xVel(v), bottom + 4.5);
    if (last) tickText(heat, xVel(v), bottom + 20.5, "middle", fmt(v));
  });

  // ---------- colorbar ----------
  const bar = make("g", {}, layer);
  
  
  const gradId = "grad-" + r.key;
  const g = make("linearGradient", {id:gradId, x1:0, y1:1, x2:0, y2:0}, defs);
  r.cm.forEach((c, i) => {
    make("stop", {offset:i / (r.cm.length - 1), "stop-color":c}, g);
  });
  const barRect = make("rect", {x:BAR_L, y:top, width:BAR_R - BAR_L, height:PANEL_H, fill:"url(#" + gradId + ")", stroke:"#444", "stroke-width":1}, bar);
  
  
  r.bt.forEach((v, i) => {
    const y = yBar(top, r.lo, r.hi, v);
    tickLine(bar, BAR_R, y, BAR_R + 4.5, y);
    tickText(bar, BAR_R + 7.5, y + 5.6, "start", r.bl[i]);
  });
});
</script>
</body>
</html>
